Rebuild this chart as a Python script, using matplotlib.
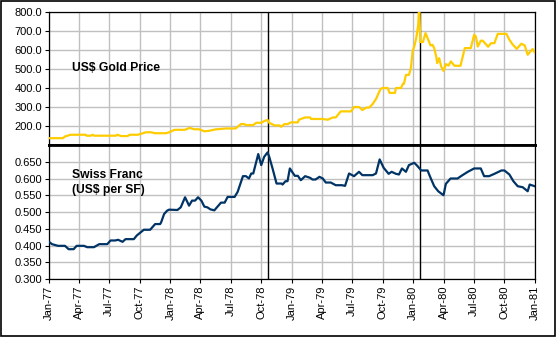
import pandas as pd
import matplotlib
matplotlib.use("Agg")
import matplotlib.pyplot as plt
import matplotlib.dates as mdates
from matplotlib.patches import Rectangle

plt.rcParams['font.family'] = ['Liberation Sans', 'DejaVu Sans']

# gold price, US$ per ounce
gold_dates = ['1977-01-01', '1977-02-12', '1977-02-18', '1977-03-07', '1977-04-21', '1977-04-24',
              '1977-05-07', '1977-05-12', '1977-05-16', '1977-07-21', '1977-07-25', '1977-08-06',
              '1977-08-25', '1977-09-01', '1977-09-25', '1977-10-05', '1977-10-19', '1977-11-04',
              '1977-11-15', '1977-12-19', '1977-12-28', '1978-01-13', '1978-02-13', '1978-02-28',
              '1978-03-13', '1978-03-28', '1978-04-13', '1978-04-28', '1978-05-16', '1978-06-16',
              '1978-07-16', '1978-07-22', '1978-08-01', '1978-08-11', '1978-08-16', '1978-09-07',
              '1978-09-16', '1978-10-01', '1978-10-10', '1978-10-20', '1978-10-25', '1978-11-10',
              '1978-11-25', '1978-11-30', '1978-12-10', '1978-12-19', '1978-12-29', '1979-01-19',
              '1979-01-22', '1979-02-10', '1979-02-25', '1979-02-28', '1979-04-04', '1979-04-19',
              '1979-05-04', '1979-05-13', '1979-05-28', '1979-06-28', '1979-07-07', '1979-07-22',
              '1979-08-01', '1979-08-13', '1979-08-22', '1979-09-01', '1979-09-11', '1979-09-22',
              '1979-09-25', '1979-10-01', '1979-10-16', '1979-10-22', '1979-11-07', '1979-11-10',
              '1979-11-25', '1979-12-01', '1979-12-04', '1979-12-10', '1979-12-19', '1979-12-25',
              '1979-12-30', '1980-01-04', '1980-01-10', '1980-01-16', '1980-01-19', '1980-01-22',
              '1980-01-30', '1980-02-07', '1980-02-13', '1980-02-22', '1980-02-28', '1980-03-04',
              '1980-03-10', '1980-03-13', '1980-03-19', '1980-03-25', '1980-04-01', '1980-04-08',
              '1980-04-16', '1980-04-23', '1980-05-04', '1980-05-22', '1980-06-04', '1980-06-22',
              '1980-07-02', '1980-07-07', '1980-07-13', '1980-07-22', '1980-07-28', '1980-08-13',
              '1980-08-22', '1980-09-01', '1980-09-11', '1980-09-25', '1980-10-07', '1980-10-16',
              '1980-10-25', '1980-11-07', '1980-11-21', '1980-12-01', '1980-12-10', '1980-12-20',
              '1980-12-25', '1980-12-31']
gold = [136, 136, 145, 154, 154, 149,
        149, 154, 149, 149, 154, 147,
        147, 154, 154, 159, 167, 167,
        162, 162, 167, 180, 180, 190,
        183, 183, 172, 175, 182, 187,
        187, 196, 210, 210, 205, 205,
        217, 217, 226, 232, 217, 203,
        203, 196, 210, 210, 219, 219,
        233, 245, 245, 237, 237, 233,
        245, 245, 277, 277, 300, 300,
        284, 297, 297, 316, 342, 385,
        395, 400, 400, 374, 374, 400,
        400, 422, 422, 469, 469, 505,
        592, 618, 663, 733, 850, 642,
        642, 689, 663, 624, 627, 610,
        566, 531, 557, 513, 490, 526,
        518, 540, 517, 517, 610, 610,
        680, 672, 618, 649, 649, 617,
        636, 636, 685, 685, 685, 654,
        631, 606, 633, 624, 575, 596,
        605, 587]

# Swiss franc, US$ per SF
chf_dates = ['1977-01-01', '1977-01-10', '1977-01-28', '1977-02-18', '1977-03-01', '1977-03-16',
             '1977-03-25', '1977-04-16', '1977-04-26', '1977-05-16', '1977-06-01', '1977-06-25',
             '1977-07-05', '1977-07-19', '1977-07-28', '1977-08-10', '1977-08-19', '1977-09-13',
             '1977-09-22', '1977-10-13', '1977-11-01', '1977-11-16', '1977-12-01', '1977-12-04',
             '1977-12-13', '1977-12-22', '1977-12-28', '1978-01-22', '1978-02-01', '1978-02-14',
             '1978-02-26', '1978-03-07', '1978-03-16', '1978-03-25', '1978-04-04', '1978-04-13',
             '1978-04-22', '1978-05-01', '1978-05-13', '1978-06-02', '1978-06-13', '1978-06-22',
             '1978-07-13', '1978-07-22', '1978-08-07', '1978-08-16', '1978-08-25', '1978-09-01',
             '1978-09-07', '1978-09-22', '1978-10-01', '1978-10-10', '1978-10-20', '1978-10-25',
             '1978-11-04', '1978-11-16', '1978-12-01', '1978-12-04', '1978-12-13', '1978-12-19',
             '1978-12-26', '1979-01-10', '1979-01-19', '1979-01-28', '1979-02-10', '1979-02-25',
             '1979-03-04', '1979-03-13', '1979-03-25', '1979-04-04', '1979-04-13', '1979-04-28',
             '1979-05-13', '1979-06-01', '1979-06-10', '1979-06-22', '1979-07-07', '1979-07-22',
             '1979-08-01', '1979-09-01', '1979-09-11', '1979-09-22', '1979-10-04', '1979-10-19',
             '1979-10-28', '1979-11-10', '1979-11-19', '1979-11-28', '1979-12-10', '1979-12-19',
             '1980-01-04', '1980-01-13', '1980-01-25', '1980-02-13', '1980-02-22', '1980-03-04',
             '1980-03-16', '1980-04-01', '1980-04-08', '1980-04-22', '1980-05-13', '1980-05-28',
             '1980-06-13', '1980-07-02', '1980-07-22', '1980-08-01', '1980-08-16', '1980-09-01',
             '1980-09-22', '1980-10-01', '1980-10-16', '1980-10-28', '1980-11-10', '1980-11-25',
             '1980-12-10', '1980-12-16', '1980-12-31']
chf = [0.411, 0.404, 0.399, 0.399, 0.389, 0.389,
       0.399, 0.399, 0.395, 0.395, 0.404, 0.404,
       0.415, 0.415, 0.417, 0.411, 0.419, 0.419,
       0.430, 0.447, 0.447, 0.464, 0.464, 0.469,
       0.494, 0.504, 0.507, 0.506, 0.514, 0.544,
       0.519, 0.534, 0.534, 0.544, 0.534, 0.516,
       0.514, 0.508, 0.505, 0.528, 0.528, 0.545,
       0.545, 0.560, 0.607, 0.607, 0.600, 0.615,
       0.615, 0.673, 0.640, 0.665, 0.678, 0.665,
       0.630, 0.585, 0.585, 0.582, 0.592, 0.592,
       0.630, 0.608, 0.608, 0.595, 0.607, 0.602,
       0.597, 0.597, 0.605, 0.600, 0.588, 0.588,
       0.580, 0.580, 0.578, 0.615, 0.607, 0.620,
       0.610, 0.610, 0.615, 0.657, 0.632, 0.614,
       0.620, 0.614, 0.612, 0.630, 0.620, 0.640,
       0.647, 0.638, 0.624, 0.624, 0.602, 0.577,
       0.562, 0.550, 0.584, 0.600, 0.600, 0.610,
       0.620, 0.630, 0.630, 0.607, 0.607, 0.614,
       0.624, 0.624, 0.612, 0.592, 0.577, 0.574,
       0.562, 0.582, 0.577]

event_dates = ['1978-10-22', '1980-01-21']

gold_ticks = [200, 300, 400, 500, 600, 700, 800]
chf_ticks = [0.30, 0.35, 0.40, 0.45, 0.50, 0.55, 0.60, 0.65]

gd = pd.to_datetime(gold_dates)
cd = pd.to_datetime(chf_dates)
ev = pd.to_datetime(event_dates)
x0, x1 = pd.Timestamp('1977-01-01'), pd.Timestamp('1981-01-01')

fig = plt.figure(figsize=(5.57, 3.37), dpi=100)
ax1 = fig.add_axes([0.088, 0.5697, 0.8725, 0.3947])
ax2 = fig.add_axes([0.088, 0.1721, 0.8725, 0.3976])

grid_c = '#c0c0c0'
quarters = mdates.MonthLocator(bymonth=[1, 4, 7, 10])

for ax in (ax1, ax2):
    ax.set_xlim(x0, x1)
    ax.xaxis.set_major_locator(quarters)
    ax.grid(True, color=grid_c, lw=1)
    ax.set_axisbelow(True)
    for s in ax.spines.values():
        s.set_linewidth(0.9)
    for d in ev:
        ax.axvline(d, color='black', lw=1, zorder=3)
    ax.tick_params(axis='y', direction='out', length=3, width=0.8, labelsize=8, pad=2)

ax1.plot(gd, gold, color='#ffcc00', lw=1.6, zorder=4)
ax1.set_ylim(100, 800)
ax1.set_yticks(gold_ticks)
ax1.set_yticklabels(['%.1f' % v for v in gold_ticks])
ax1.tick_params(axis='x', length=0, labelbottom=False)
ax1.spines['bottom'].set_linewidth(2)
ax1.text(0.047, 0.58, 'US$ Gold Price', transform=ax1.transAxes, fontsize=8.75,
         fontweight='bold', va='center', ha='left')

ax2.plot(cd, chf, color='#003366', lw=1.6, zorder=4)
ax2.set_ylim(0.30, 0.70)
ax2.set_yticks(chf_ticks)
ax2.set_yticklabels(['%.3f' % v for v in chf_ticks])
ax2.spines['top'].set_linewidth(2)
ax2.xaxis.set_major_formatter(mdates.DateFormatter('%b-%y'))
ax2.tick_params(axis='x', direction='out', length=3, width=0.8, labelsize=8,
                labelrotation=90, pad=2)
ax2.text(0.047, 0.72, 'Swiss Franc\n(US$ per SF)', transform=ax2.transAxes, fontsize=8.75,
         fontweight='bold', va='center', ha='left', linespacing=1.25)

fig.patches.append(Rectangle((0.002, 0.003), 0.995, 0.994, transform=fig.transFigure,
                             fill=False, edgecolor='black', lw=1.2))

fig.savefig('out.png', dpi=100)
